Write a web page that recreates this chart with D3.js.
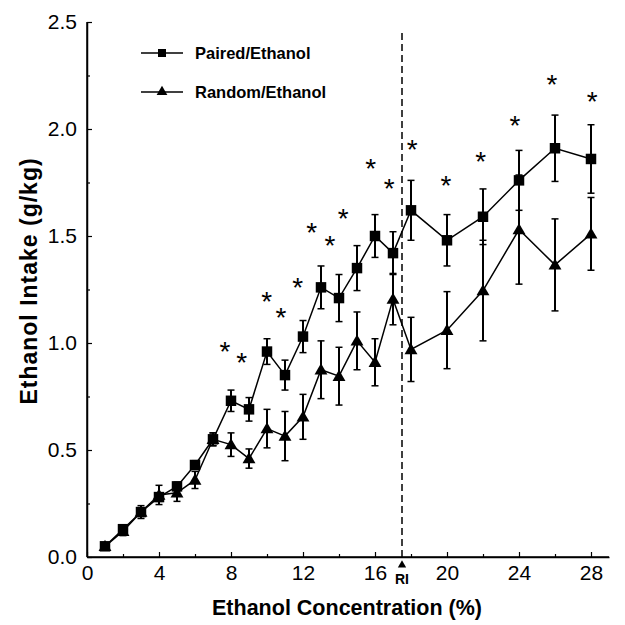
<!DOCTYPE html>
<html>
<head>
<meta charset="utf-8">
<script src="https://cdn.jsdelivr.net/npm/d3@7"></script>
<style>
  html, body { margin: 0; padding: 0; background: #fff; }
  svg { display: block; }
  text { font-family: "Liberation Sans", Arial, sans-serif; fill: #000; }
</style>
</head>
<body>
<svg id="chart" width="625" height="625"></svg>
<script>
// ---- data ----
const concentrations = [1,2,3,4,5,6,7,8,9,10,11,12,13,14,15,16,17,18,20,22,24,26,28];
const pairedMean = [0.05,0.13,0.21,0.28,0.33,0.43,0.55,0.73,0.69,0.96,0.85,1.03,1.26,1.21,1.35,1.50,1.42,1.62,1.48,1.59,1.76,1.91,1.86];
const pairedErr  = [0.01,0.02,0.02,0.02,0.02,0.02,0.03,0.05,0.055,0.06,0.07,0.075,0.10,0.11,0.105,0.10,0.10,0.14,0.12,0.13,0.14,0.155,0.16];
const randomMean = [0.05,0.12,0.21,0.29,0.30,0.36,0.55,0.525,0.46,0.60,0.565,0.655,0.875,0.845,1.01,0.91,1.205,0.97,1.06,1.245,1.53,1.365,1.51];
const randomErr  = [0.01,0.02,0.03,0.045,0.04,0.04,0.03,0.055,0.045,0.09,0.115,0.105,0.135,0.135,0.135,0.11,0.12,0.15,0.18,0.235,0.255,0.215,0.17];
// significance asterisks: [x, y] in data units (glyph centre)
const asteriskX = [7.67,8.59,9.98,10.78,11.7,12.48,13.5,14.24,15.76,16.79,18.07,19.94,21.87,23.78,25.83,28.06];
const asteriskY = [0.987,0.939,1.224,1.146,1.286,1.545,1.485,1.61,1.842,1.751,1.933,1.766,1.875,2.047,2.238,2.159];
const xTicksMajor = [0,4,8,12,16,20,24,28];
const xTicksMinor = [2,6,10,14,18,22,26];
const yTicksMajor = [0,0.5,1.0,1.5,2.0,2.5];
const yTicksMinor = [0.25,0.75,1.25,1.75,2.25];
const riX = 17.5;
const riLabel = "RI";
const seriesNames = ["Paired/Ethanol","Random/Ethanol"];
const xTitle = "Ethanol Concentration (%)";
const yTitle = "Ethanol Intake (g/kg)";

// ---- layout ----
const svg = d3.select("#chart");
const x = d3.scaleLinear().domain([0, 29]).range([87, 609]);
const y = d3.scaleLinear().domain([0, 2.5]).range([557, 22]);

// axes
const gx = svg.append("g").attr("transform", `translate(0,${y(0)})`);
gx.call(d3.axisBottom(x).tickValues(xTicksMajor).tickSizeInner(-5).tickSizeOuter(0).tickPadding(8).tickFormat(d3.format("d")));
gx.append("g").call(d3.axisBottom(x).tickValues(xTicksMinor).tickSizeInner(-3).tickSizeOuter(0).tickFormat(""));
const gy = svg.append("g").attr("transform", `translate(${x(0)},0)`);
gy.call(d3.axisLeft(y).tickValues(yTicksMajor).tickSizeInner(-5).tickSizeOuter(0).tickPadding(10).tickFormat(d3.format(".1f")));
gy.append("g").call(d3.axisLeft(y).tickValues(yTicksMinor).tickSizeInner(-3).tickSizeOuter(0).tickFormat(""));
svg.selectAll(".domain").attr("stroke", "#000").attr("stroke-width", 1.5);
svg.selectAll(".tick line").attr("stroke", "#000").attr("stroke-width", 1.2);
svg.selectAll(".tick text").style("font-size", "21px").style("font-family", "'Liberation Sans', Arial, sans-serif");
gx.selectAll(".tick text").attr("dy", "0.71em");
gx.select(".domain").attr("d", `M${x(0)},0H${x(29)}`);
gy.select(".domain").attr("d", `M0,${y(0)}V${y(2.5)}`);

// dashed RI line
svg.append("line")
  .attr("x1", x(riX)).attr("x2", x(riX))
  .attr("y1", y(0)).attr("y2", y(2.45))
  .attr("stroke", "#000").attr("stroke-width", 1.5)
  .attr("stroke-dasharray", "7,4");
svg.append("path")
  .attr("d", d3.symbol(d3.symbolTriangle, 30)())
  .attr("transform", `translate(${x(riX)},${y(0) + 8})`)
  .attr("fill", "#000");
svg.append("text")
  .attr("x", x(riX)).attr("y", y(0) + 27)
  .attr("text-anchor", "middle")
  .style("font-size", "14px").style("font-weight", "bold")
  .text(riLabel);

// series
const series = [
  {name: seriesNames[0], mean: pairedMean, err: pairedErr, symbol: d3.symbolSquare, size: 110},
  {name: seriesNames[1], mean: randomMean, err: randomErr, symbol: d3.symbolTriangle, size: 72}
];
const line = d3.line().x(d => x(d.x)).y(d => y(d.y));

series.forEach(s => {
  const pts = concentrations.map((c, i) => ({x: c, y: s.mean[i], e: s.err[i]}));
  const g = svg.append("g");
  g.append("path").datum(pts).attr("d", line)
    .attr("fill", "none").attr("stroke", "#000").attr("stroke-width", 1.5);
  const eb = g.selectAll(".eb").data(pts).enter().append("g");
  eb.append("line")
    .attr("x1", d => x(d.x)).attr("x2", d => x(d.x))
    .attr("y1", d => y(d.y - d.e)).attr("y2", d => y(d.y + d.e))
    .attr("stroke", "#000").attr("stroke-width", 2);
  [-1, 1].forEach(sgn => {
    eb.append("line")
      .attr("x1", d => x(d.x) - 3.5).attr("x2", d => x(d.x) + 3.5)
      .attr("y1", d => y(d.y + sgn * d.e)).attr("y2", d => y(d.y + sgn * d.e))
      .attr("stroke", "#000").attr("stroke-width", 1.5);
  });
  s.g = g; s.pts = pts;
});
series.forEach(s => {
  s.g.selectAll(".mk").data(s.pts).enter().append("path")
    .attr("d", d3.symbol(s.symbol, s.size)())
    .attr("transform", d => `translate(${x(d.x)},${y(d.y) + (s.symbol === d3.symbolTriangle ? 1 : 0)})`)
    .attr("fill", "#000");
});

// asterisks
const fsA = 28;
svg.selectAll(".ast").data(asteriskX).enter().append("text")
  .attr("x", d => x(d))
  .attr("y", (d, i) => y(asteriskY[i]) + fsA * 0.56)
  .attr("text-anchor", "middle")
  .style("font-size", fsA + "px")
  .text("*");

// legend
const legend = [
  {name: seriesNames[0], symbol: d3.symbolSquare, size: 64, ly: 53},
  {name: seriesNames[1], symbol: d3.symbolTriangle, size: 50, ly: 92}
];
legend.forEach(l => {
  svg.append("line").attr("x1", 141).attr("x2", 183).attr("y1", l.ly).attr("y2", l.ly)
    .attr("stroke", "#000").attr("stroke-width", 1.5);
  svg.append("path").attr("d", d3.symbol(l.symbol, l.size)())
    .attr("transform", `translate(162,${l.ly})`).attr("fill", "#000");
  svg.append("text").attr("x", 195).attr("y", l.ly + 6)
    .style("font-size", "16.5px").style("font-weight", "bold")
    .text(l.name);
});

// axis titles
svg.append("text")
  .attr("x", 347).attr("y", 615)
  .attr("text-anchor", "middle")
  .style("font-size", "21.5px").style("font-weight", "bold")
  .text(xTitle);
svg.append("text")
  .attr("transform", `translate(37,281) rotate(-90)`)
  .attr("text-anchor", "middle")
  .style("font-size", "23px").style("font-weight", "bold")
  .style("letter-spacing", "1px")
  .text(yTitle);
</script>
</body>
</html>
